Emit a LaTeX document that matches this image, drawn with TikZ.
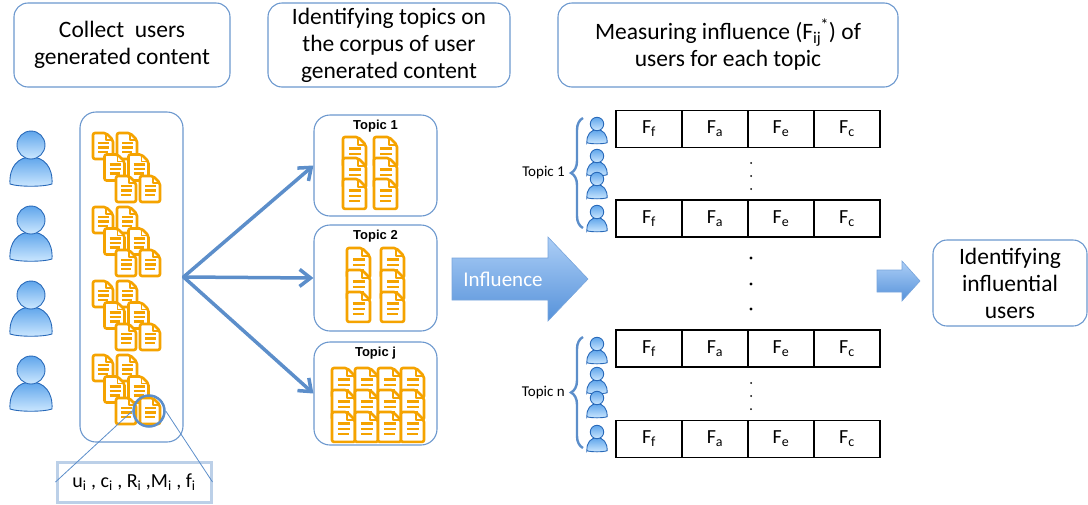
\documentclass[tikz,border=0pt]{standalone}
\usepackage{fontspec}
\setmainfont{Carlito}
\newfontfamily\arialfont{Liberation Sans}
\usepackage{xcolor}
\usetikzlibrary{positioning,arrows.meta,decorations.pathreplacing}

\definecolor{boxblue}{RGB}{108,152,206}
\definecolor{fanblue}{RGB}{92,142,202}
\definecolor{docorange}{RGB}{245,163,0}
\definecolor{lblblue}{RGB}{188,208,232}
\definecolor{userdark}{RGB}{40,105,185}
\definecolor{userlight}{RGB}{205,232,255}
\definecolor{usermid}{RGB}{95,165,235}
\definecolor{arrowtop}{RGB}{172,206,246}
\definecolor{arrowbot}{RGB}{86,146,218}
\definecolor{arrowedge}{RGB}{120,165,220}

\tikzset{
  doc/.pic={
    \draw[docorange, line width=2.6pt, fill=white, rounded corners=2pt] (0,0) -- (13,0) -- (20,7) -- (20,26) -- (0,26) -- cycle;
    \draw[docorange, line width=1.8pt, line join=round] (13,0) -- (13,7) -- (20,7);
    \draw[docorange, line width=2.2pt] (5,10) -- (16,10) (5,14.5) -- (16,14.5) (5,19) -- (15,19);
  },
  user/.pic={
    \draw[userdark, line width=0.9pt, top color=usermid, bottom color=userlight] (-21,39) .. controls (-22,22) and (-13,12) .. (0,12) .. controls (13,12) and (22,22) .. (21,39) .. controls (12,42) and (-12,42) .. cycle;
    \draw[userdark, line width=0.9pt, top color=usermid, bottom color=userlight] (0,0) circle (14);
  },
  hdr/.style={draw=boxblue, line width=1.1pt, rounded corners=14pt, align=center, inner sep=2pt, font=\fontsize{23.5}{27}\selectfont},
  panel/.style={draw=boxblue, line width=1.1pt, rounded corners=16pt, fill=white},
  ttitle/.style={inner sep=1pt, font=\arialfont\bfseries\fontsize{13}{15}\selectfont},
  fan/.style={fanblue, line width=3.5pt, line cap=round, -{Straight Barb[length=11pt, width=17pt]}},
  cell/.style={draw, line width=1.4pt, minimum width=66pt, minimum height=37pt, inner sep=0pt, font=\fontsize{20}{23}\selectfont},
  topicbrace/.style={draw=fanblue, line width=2.4pt, decorate, decoration={brace, amplitude=12pt}},
  tlabel/.style={inner sep=0pt, font=\fontsize{15}{18}\selectfont},
  blockarrow/.style={draw=arrowedge, line width=0.6pt, top color=arrowtop, bottom color=arrowbot}
}

\begin{document}
\begin{tikzpicture}[x=1pt, y=-1pt]
\useasboundingbox (0,0) rectangle (1088,504);

\node[hdr, minimum width=216pt, minimum height=84pt] (collect) at (122,45) {Collect\ \ users\\generated content};
\node[hdr, minimum width=242pt, minimum height=84pt] (identify) at (389,45) {Identifying topics on\\the corpus of user\\generated content};
\node[hdr, minimum width=340pt, minimum height=84pt] (measure) at (728,45) {Measuring influence (F\textsubscript{ij}\kern-0.05em\textsuperscript{*}) of\\users for each topic};
\node[hdr, minimum width=154pt, minimum height=86pt] (result) at (1010,283) {Identifying\\influential\\users};

\foreach \k in {0,...,3}
  \pic at (31,{145+75*\k}) {user};

\node[panel, minimum width=103pt, minimum height=330pt] (corpus) at (131.5,277) {};
\foreach \g in {0,...,3}
  \foreach \r in {0,1,2}
    \foreach \c in {0,1}
      \pic at ({93+11.5*\r+24*\c},{133+74*\g+21.5*\r}) {doc};

\node[circle, draw=fanblue, line width=2.5pt, minimum size=31pt, inner sep=0pt] (pick) at (149,411) {};
\node[draw=lblblue, line width=3pt, fill=white, minimum width=154pt, minimum height=40pt, font=\fontsize{20}{24}\selectfont] (attrs) at (134,482) {u\textsubscript{i} , c\textsubscript{i} , R\textsubscript{i} ,M\textsubscript{i} , f\textsubscript{i}};
\draw[fanblue, line width=0.8pt] (pick.west) -- (attrs.west);
\draw[fanblue, line width=0.8pt] (pick.east) -- (attrs.east);

\node[panel, minimum width=123pt, minimum height=101pt] (topic1) at (375.5,165.5) {};
\node[panel, minimum width=123pt, minimum height=106pt] (topic2) at (375.5,278) {};
\node[panel, minimum width=123pt, minimum height=103pt] (topicj) at (375.5,393.5) {};
\node[ttitle, below=4pt of topic1.north] (title1) {Topic 1};
\node[ttitle, below=4pt of topic2.north] (title2) {Topic 2};
\node[ttitle, below=4pt of topicj.north] (titlej) {Topic j};

\foreach \x in {343,374}
  \foreach \y in {137,158,179}
    \pic[scale=1.15] at (\x,\y) {doc};
\foreach \x in {347,381}
  \foreach \y in {248,270,292}
    \pic[scale=1.15] at (\x,\y) {doc};
\foreach \y in {368,390,412}
  \foreach \x in {332,355,378,401}
    \pic[scale=1.15] at (\x,\y) {doc};

\draw[fan] (corpus.east) -- (topic1.west);
\draw[fan] (corpus.east) -- (topic2.west);
\draw[fan] (corpus.east) -- (topicj.west);

\draw[blockarrow] (452,258) -- (548,258) -- (548,237) -- (588,279) -- (548,321) -- (548,300) -- (452,300) -- cycle;
\node[text=white, font=\fontsize{21}{24}\selectfont] (influence) at (503,279) {Influence};

\foreach \y in {124,156,179,212,344,374,398,432}
  \pic[scale=0.48] at (597,\y) {user};

\draw[topicbrace] (583,228) -- (583,118);
\coordinate (tipA) at (571,173);
\node[tlabel, left=6pt of tipA] (labA) {Topic 1};
\draw[topicbrace] (583,448) -- (583,337);
\coordinate (tipB) at (571,392.5);
\node[tlabel, left=6pt of tipB] (labB) {Topic n};

\foreach \r/\y in {1/129, 2/218.5, 3/348.5, 4/439}
  \foreach \s [count=\c] in {f,a,e,c}
    \node[cell] (f\r\c) at ({583+66*\c},\y) {F\textsubscript{\s}};

\foreach \y in {163,176,189,383,396,409}
  \fill (751,\y) circle (1);
\foreach \y in {258,284,309}
  \fill (751,\y) circle (1.6);

\draw[blockarrow] (877,270) -- (902,270) -- (902,261) -- (920,281) -- (902,301) -- (902,292) -- (877,292) -- cycle;
\end{tikzpicture}
\end{document}
